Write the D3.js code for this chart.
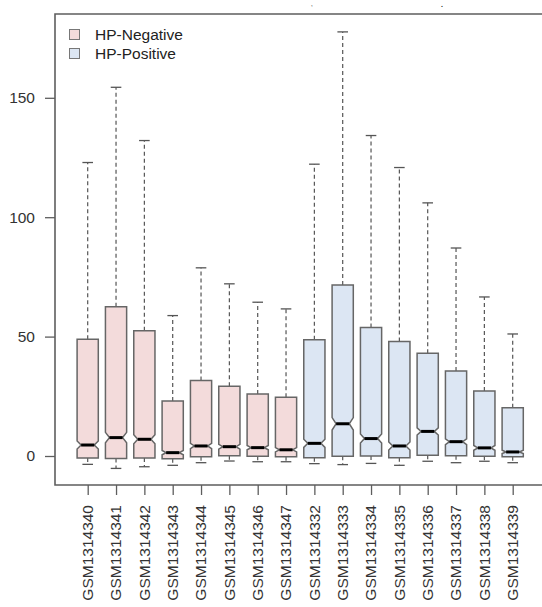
<!DOCTYPE html>
<html><head><meta charset="utf-8">
<script src="https://cdn.jsdelivr.net/npm/d3@7"></script>
<style>
html,body{margin:0;padding:0;background:#fff;}
svg{display:block;font-family:"Liberation Sans",Arial,Helvetica,sans-serif;}
</style></head>
<body>
<svg id="c" width="542" height="607"></svg>
<script>
const samples = ["GSM1314340","GSM1314341","GSM1314342","GSM1314343","GSM1314344","GSM1314345","GSM1314346","GSM1314347",
                 "GSM1314332","GSM1314333","GSM1314334","GSM1314335","GSM1314336","GSM1314337","GSM1314338","GSM1314339"];
const groups = ["HP-Negative","HP-Negative","HP-Negative","HP-Negative","HP-Negative","HP-Negative","HP-Negative","HP-Negative",
                "HP-Positive","HP-Positive","HP-Positive","HP-Positive","HP-Positive","HP-Positive","HP-Positive","HP-Positive"];
const lowerWhisker = [-3.5,-5.2,-4.5,-3.9,-2.8,-2.1,-2.4,-2.4,-3.2,-3.6,-3.1,-3.9,-2.2,-2.8,-2.2,-2.8];
const q1           = [-0.8,-1.0,-0.8,-1.1,-0.3, 0.1,-0.1,-0.3,-0.7,-0.1, 0.0,-0.7, 0.3, 0.1,-0.1,-0.3];
const median       = [ 4.6, 7.7, 7.0, 1.4, 4.2, 3.9, 3.5, 2.6, 5.3,13.5, 7.3, 4.2,10.3, 6.0, 3.4, 1.7];
const q3           = [48.9,62.5,52.5,23.0,31.6,29.2,26.0,24.6,48.7,71.6,53.8,47.9,43.0,35.6,27.2,20.2];
const upperWhisker = [122.9,154.4,132.1,58.8,78.8,72.1,64.4,61.6,122.2,177.6,134.2,120.8,106.0,87.1,66.6,51.1];
const notchHalf    = [1.7,2.2,1.9,0.9,1.1,1.0,0.9,0.9,1.7,2.6,1.9,1.7,1.5,1.2,1.0,0.7];
const legendLabels = ["HP-Negative","HP-Positive"];
const yTicks = [0,50,100,150];

const colors = {"HP-Negative":"#f3dbdb","HP-Positive":"#dce6f3"};
const svg = d3.select("#c");
const mLeft = 55, mTop = 14, mBottom = 485, mRight = 542;

const x = d3.scalePoint().domain(samples).range([87.7, 512.7]);
const y = d3.scaleLinear().domain([0,150]).range([456, 97.8]);

const data = samples.map((s,i)=>({s, g:groups[i], lo:lowerWhisker[i], q1:q1[i], med:median[i], q3:q3[i], hi:upperWhisker[i], n:notchHalf[i]}));

// frame
const frame = svg.append("g").attr("stroke","#5e5e5e").attr("stroke-width",1.6).attr("fill","none");
frame.append("path").attr("d",`M${mRight},${mTop}H${mLeft}V${mBottom}H${mRight}`);

// y axis
const ya = svg.append("g").attr("transform",`translate(${mLeft},0)`)
  .call(d3.axisLeft(y).tickValues(yTicks).tickSize(10).tickPadding(10));
ya.select(".domain").remove();
ya.selectAll(".tick line").attr("stroke","#5e5e5e").attr("stroke-width",1.3);
ya.selectAll(".tick text").attr("font-size","15.5px").attr("fill","#333").attr("font-family","Liberation Sans, Arial, sans-serif");

// x axis
const xa = svg.append("g").attr("transform",`translate(0,${mBottom})`)
  .call(d3.axisBottom(x).tickSize(10).tickFormat(""));
xa.select(".domain").remove();
xa.selectAll(".tick line").attr("stroke","#5e5e5e").attr("stroke-width",1.3);
svg.append("g").selectAll("text").data(samples).join("text")
  .attr("transform",d=>`translate(${x(d)},${505}) rotate(-90)`)
  .attr("text-anchor","end").attr("dy","0.35em")
  .attr("font-size","15.5px").attr("fill","#333").text(d=>d);

// boxes
const bw = 10.6; // half width
const ns = 0.62;
const bx = svg.append("g");
data.forEach(d=>{
  const cx = x(d.s);
  const g = bx.append("g");
  g.append("line").attr("x1",cx).attr("x2",cx).attr("y1",y(d.q3)).attr("y2",y(d.hi))
    .attr("stroke","#555").attr("stroke-width",1.2).attr("stroke-dasharray","4,3");
  g.append("line").attr("x1",cx).attr("x2",cx).attr("y1",y(d.q1)).attr("y2",y(d.lo))
    .attr("stroke","#555").attr("stroke-width",1.2).attr("stroke-dasharray","4,3");
  g.append("line").attr("x1",cx-bw/2).attr("x2",cx+bw/2).attr("y1",y(d.hi)).attr("y2",y(d.hi))
    .attr("stroke","#555").attr("stroke-width",1.3);
  g.append("line").attr("x1",cx-bw/2).attr("x2",cx+bw/2).attr("y1",y(d.lo)).attr("y2",y(d.lo))
    .attr("stroke","#555").attr("stroke-width",1.3);
  const pts = [
    [cx-bw, y(d.q1)],[cx+bw, y(d.q1)],[cx+bw, y(d.med-d.n)],[cx+bw*ns, y(d.med)],
    [cx+bw, y(d.med+d.n)],[cx+bw, y(d.q3)],[cx-bw, y(d.q3)],[cx-bw, y(d.med+d.n)],
    [cx-bw*ns, y(d.med)],[cx-bw, y(d.med-d.n)]
  ];
  g.append("path").attr("d", d3.line()(pts)+"Z")
    .attr("fill",colors[d.g]).attr("stroke","#666").attr("stroke-width",1.5);
  g.append("line").attr("x1",cx-bw*ns).attr("x2",cx+bw*ns).attr("y1",y(d.med)).attr("y2",y(d.med))
    .attr("stroke","#000").attr("stroke-width",3);
});

// legend
const lg = svg.append("g");
legendLabels.forEach((l,i)=>{
  const yy = 29 + i*19;
  lg.append("rect").attr("x",69.5).attr("y",yy+0.5).attr("width",10).attr("height",10)
    .attr("fill",colors[l]).attr("stroke","#777").attr("stroke-width",1);
  lg.append("text").attr("x",95).attr("y",yy+11).attr("font-size","15.5px").attr("fill","#222").text(l);
});

// cropped title remnants
svg.append("text").attr("x",311).attr("y",6).attr("font-size","6px").attr("font-weight","bold").attr("fill","#666").text(",");
svg.append("text").attr("x",441).attr("y",7).attr("font-size","7px").attr("font-weight","bold").attr("fill","#222").text(".");
</script>
</body></html>
